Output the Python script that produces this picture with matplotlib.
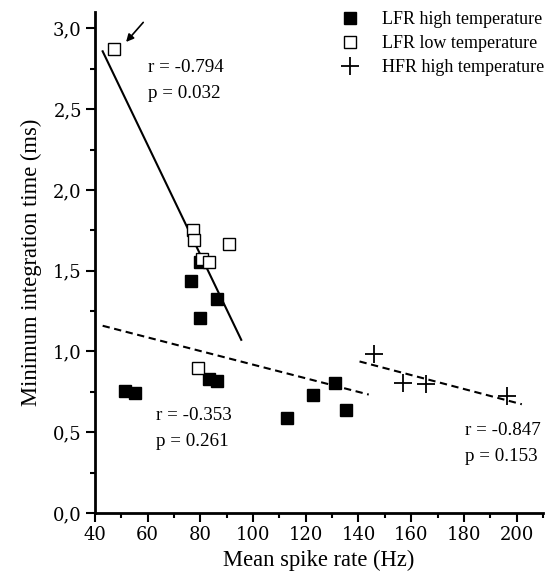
import matplotlib
matplotlib.use("Agg")
import matplotlib.pyplot as plt
from matplotlib.ticker import MultipleLocator, FuncFormatter

plt.rcParams['font.family'] = ['Liberation Serif', 'DejaVu Serif']

# LFR high temperature (filled squares)
lfr_high_x = [51.4, 55.1, 76.5, 80.0, 86.3, 80.0, 83.1, 86.3, 112.7, 122.8, 131.0, 135.4]
lfr_high_y = [0.755, 0.745, 1.434, 1.208, 1.325, 1.551, 0.827, 0.817, 0.588, 0.728, 0.807, 0.64]

# LFR low temperature (open squares)
lfr_low_x = [47.3, 77.1, 77.5, 90.9, 80.6, 83.1, 79.1]
lfr_low_y = [2.872, 1.751, 1.691, 1.665, 1.572, 1.551, 0.899]

# HFR high temperature (plus)
hfr_x = [145.7, 157.0, 165.5, 196.3]
hfr_y = [0.986, 0.804, 0.796, 0.722]

# regression lines (end points)
fit_low_x = [42.9, 95.5]
fit_low_y = [2.858, 1.072]
fit_high_x = [42.9, 143.9]
fit_high_y = [1.159, 0.733]
fit_hfr_x = [140.4, 202.0]
fit_hfr_y = [0.938, 0.673]

fig = plt.figure(figsize=(5.54, 5.82), dpi=100)
ax = fig.add_axes([0.1715, 0.1186, 0.8085, 0.8604])

ax.plot(fit_low_x, fit_low_y, color='black', lw=1.5)
ax.plot(fit_high_x, fit_high_y, color='black', lw=1.5, ls=(0, (3.5, 2.2)))
ax.plot(fit_hfr_x, fit_hfr_y, color='black', lw=1.5, ls=(0, (3.5, 2.2)))

ax.plot(lfr_high_x, lfr_high_y, 's', color='black', ms=9, ls='none',
        label='LFR high temperature')
ax.plot(lfr_low_x, lfr_low_y, 's', mfc='white', mec='black', mew=1.0, ms=9,
        ls='none', label='LFR low temperature')
ax.plot(hfr_x, hfr_y, '+', color='black', ms=13, mew=1.3, ls='none',
        label='HFR high temperature')

ax.annotate('', xy=(51.1, 2.903), xytext=(59, 3.05),
            arrowprops=dict(arrowstyle='-|>', color='black', lw=1.2,
                            mutation_scale=11))

tfs = 13.7
ax.text(60.1, 2.76, 'r = -0.794', fontsize=tfs, va='center')
ax.text(60.1, 2.595, 'p = 0.032', fontsize=tfs, va='center')
ax.text(63, 0.605, 'r = -0.353', fontsize=tfs, va='center')
ax.text(63, 0.44, 'p = 0.261', fontsize=tfs, va='center')
ax.text(180.6, 0.512, 'r = -0.847', fontsize=tfs, va='center')
ax.text(180.6, 0.352, 'p = 0.153', fontsize=tfs, va='center')

ax.set_xlim(40, 210)
ax.set_ylim(0, 3.1)
ax.xaxis.set_major_locator(MultipleLocator(20))
ax.xaxis.set_minor_locator(MultipleLocator(10))
ax.yaxis.set_major_locator(MultipleLocator(0.5))
ax.yaxis.set_minor_locator(MultipleLocator(0.25))
ax.yaxis.set_major_formatter(FuncFormatter(lambda v, p: f'{v:.1f}'.replace('.', ',')))

for s in ['top', 'right']:
    ax.spines[s].set_visible(False)
for s in ['left', 'bottom']:
    ax.spines[s].set_linewidth(2)
ax.tick_params(which='major', direction='out', length=6.5, width=1.5, pad=3)
ax.tick_params(which='minor', direction='out', length=3.6, width=1.5)
for lab in ax.get_xticklabels() + ax.get_yticklabels():
    lab.set_family('DejaVu Serif')
    lab.set_fontsize(13)

ax.set_xlabel('Mean spike rate (Hz)', fontsize=16.3, labelpad=4)
ax.set_ylabel('Minimum integration time (ms)', fontsize=16.3, labelpad=8)

ax.legend(loc='upper right', frameon=False, fontsize=13, handlelength=1.0,
          handletextpad=1.25, borderpad=0, borderaxespad=0,
          bbox_to_anchor=(544 / 554, 1 - 11 / 582), bbox_transform=fig.transFigure,
          labelspacing=0.4)

fig.savefig('out.png', dpi=100)
